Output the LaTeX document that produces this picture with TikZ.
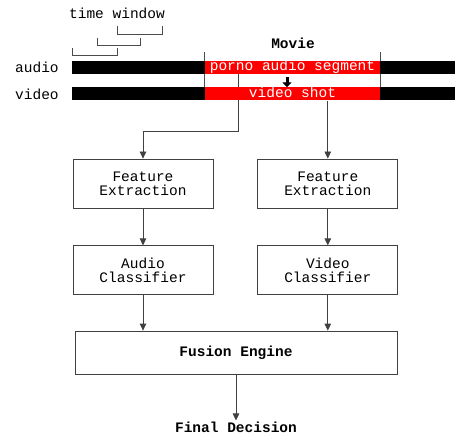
\documentclass[tikz,border=0pt]{standalone}
\usepackage{fontspec}
\newfontfamily\cuadro{Liberation Mono}
\usetikzlibrary{arrows.meta,positioning,backgrounds}

\begin{document}
\begin{tikzpicture}[
            x=1pt, y=-1pt,
            every node/.style={font=\cuadro\fontsize{14.5}{14}\selectfont},
            bloque/.style={draw=black!75, line width=0.8pt, minimum width=140pt, minimum height=49pt, align=center, inner sep=2pt},
            barra/.style={fill=black, minimum width=383pt, minimum height=13pt, inner sep=0pt},
            segmento/.style={fill=red, text=white, minimum width=175pt, minimum height=13pt, inner sep=0pt, text height=9pt, text depth=2pt},
            flecha/.style={draw=black!75, line width=0.8pt, -{Triangle[width=6.5pt,length=7pt]}},
            marca/.style={draw=black!70, line width=0.8pt}
        ]
        \useasboundingbox (0,0) rectangle (455,438);

        % Barras de audio y video
        \node[barra] (audiobar) at (263.5,67.5) {};
        \node[barra] (videobar) at (263.5,94) {};
        \node[segmento] (audioseg) at (292.5,67.5) {porno audio segment};
        \node[segmento] (videoseg) at (292.5,94) {video shot};

        % Etiquetas
        \node[anchor=west, inner sep=0pt] (audiolab) at (15,67) {audio};
        \node[anchor=west, inner sep=0pt] (videolab) at (15,94) {video};
        \node[font=\cuadro\bfseries\fontsize{14.5}{14}\selectfont] (movie) at (293,43) {Movie};
        \node (window) at (117,13) {time window};

        % Ventanas de tiempo
        \draw[marca] (72,48) -- (72,55) -- (117,55) -- (117,48);
        \draw[marca] (97,38) -- (97,45) -- (140,45) -- (140,38);
        \draw[marca] (117,26) -- (117,34) -- (162,34) -- (162,26);

        % Bloques de proceso
        \node[bloque] (fe1) at (143,183.5) {Feature\\Extraction};
        \node[bloque, right=44pt of fe1] (fe2) {Feature\\Extraction};
        \node[bloque, below=37pt of fe1] (ac) {Audio\\Classifier};
        \node[bloque, below=37pt of fe2] (vc) {Video\\Classifier};
        \node[bloque, minimum width=322pt, minimum height=43pt, font=\cuadro\bfseries\fontsize{14.5}{14}\selectfont] (fusion) at (236,352.5) {Fusion Engine};
        \node[font=\cuadro\bfseries\fontsize{14.5}{14}\selectfont, inner sep=1pt] (final) at (236,427) {Final Decision};

        % Lineas de fondo
        \begin{scope}[on background layer]
            \draw[marca] ([yshift=9pt]audioseg.north west) -- ([yshift=12pt]videoseg.south west);
            \draw[marca] ([yshift=9pt]audioseg.north east) -- ([yshift=12pt]videoseg.south east);
            \draw[flecha] ([xshift=-54.5pt]audioseg.south) -- ++(0,57) -| (fe1.north);
        \end{scope}

        % Flechas de proceso
        \draw[line width=3pt, shorten <=3pt, -{Triangle[width=9pt,length=5pt]}] ([xshift=-5.5pt]audioseg.south) -- ([xshift=-5.5pt]videoseg.north);
        \draw[flecha] (fe2.north |- videoseg.south) -- (fe2.north);
        \draw[flecha] (fe1.south) -- (ac.north);
        \draw[flecha] (fe2.south) -- (vc.north);
        \draw[flecha] (ac.south) -- (ac.south |- fusion.north);
        \draw[flecha] (vc.south) -- (vc.south |- fusion.north);
        \draw[flecha] (fusion.south) -- (final.north);

    \end{tikzpicture}
\end{document}
